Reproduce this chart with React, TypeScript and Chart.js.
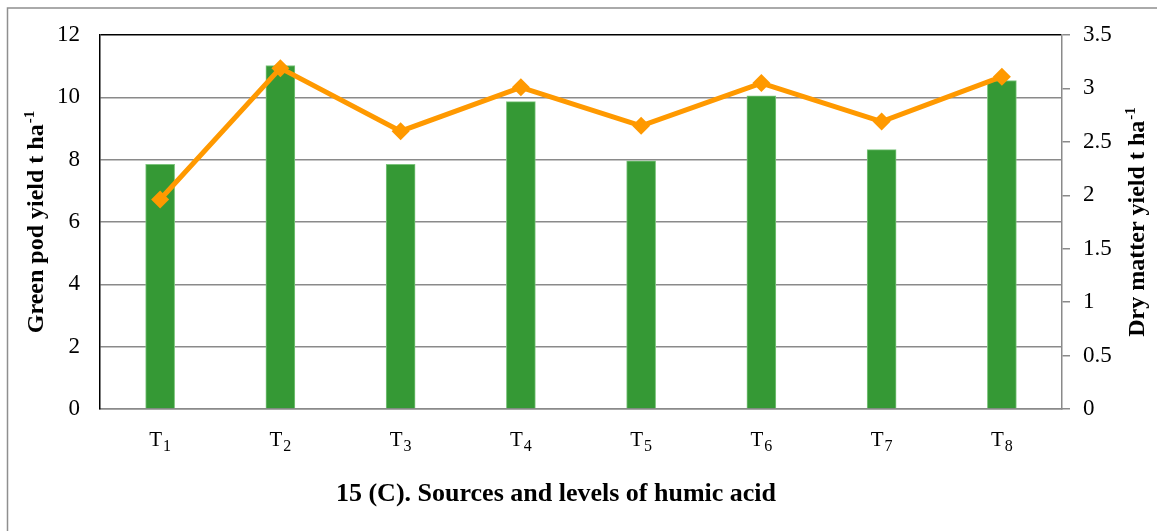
import React, { useEffect, useRef } from "react";
import { Chart, registerables } from "chart.js";

Chart.register(...registerables);

// Treatments on the category axis
const treatments = ["T₁", "T₂", "T₃", "T₄", "T₅", "T₆", "T₇", "T₈"];
// Green pod yield (t/ha), left axis
const greenPodYield = [7.85, 11.02, 7.85, 9.86, 7.96, 10.05, 8.32, 10.54];
// Dry matter yield (t/ha), right axis
const dryMatterYield = [1.96, 3.19, 2.6, 3.01, 2.65, 3.05, 2.69, 3.11];

const leftTicks = [0, 2, 4, 6, 8, 10, 12];
const rightTicks = [0, 0.5, 1, 1.5, 2, 2.5, 3, 3.5];

const leftTitle = "Green pod yield t ha";
const rightTitle = "Dry matter yield t ha";
const unitSup = "-1";
const xTitle = "15 (C). Sources and levels of humic acid";

const SERIF = "'Liberation Serif', 'Times New Roman', 'DejaVu Serif', serif";
const SUBSCRIPTS = "₀₁₂₃₄₅₆₇₈₉";

// Rotated axis title with a raised "-1" exponent
function drawRotatedTitle(ctx: CanvasRenderingContext2D, cx: number, cy: number, text: string, sup: string) {
  ctx.save();
  ctx.translate(cx, cy);
  ctx.rotate(-Math.PI / 2);
  ctx.fillStyle = "#000";
  ctx.textBaseline = "alphabetic";
  ctx.textAlign = "left";
  ctx.font = `bold 24px ${SERIF}`;
  const mainW = ctx.measureText(text).width;
  ctx.font = `bold 15px ${SERIF}`;
  const supW = ctx.measureText(sup).width;
  const total = mainW + supW + 1;
  const x0 = -total / 2;
  const base = 8;
  ctx.font = `bold 24px ${SERIF}`;
  ctx.fillText(text, x0, base);
  ctx.font = `bold 15px ${SERIF}`;
  ctx.fillText(sup, x0 + mainW + 1, base - 9);
  ctx.restore();
}

// Category labels such as "T₁": letter with a lowered, smaller index
function drawCategoryLabel(ctx: CanvasRenderingContext2D, cx: number, baseline: number, label: string) {
  let head = "";
  let sub = "";
  for (const ch of label) {
    const i = SUBSCRIPTS.indexOf(ch);
    if (i >= 0) sub += String(i);
    else head += ch;
  }
  ctx.save();
  ctx.fillStyle = "#000";
  ctx.textBaseline = "alphabetic";
  ctx.textAlign = "left";
  ctx.font = `21px ${SERIF}`;
  const headW = ctx.measureText(head).width;
  ctx.font = `16px ${SERIF}`;
  const subW = ctx.measureText(sub).width;
  const x0 = cx - (headW + subW + 1) / 2;
  ctx.font = `21px ${SERIF}`;
  ctx.fillText(head, x0, baseline);
  ctx.font = `16px ${SERIF}`;
  ctx.fillText(sub, x0 + headW + 1, baseline + 5);
  ctx.restore();
}

const titlesPlugin = {
  id: "frameAndTitles",
  beforeDraw(chart: any) {
    const { ctx } = chart;
    ctx.save();
    ctx.strokeStyle = "#8f8f8f";
    ctx.lineWidth = 1.5;
    ctx.beginPath();
    ctx.moveTo(7.5, chart.height);
    ctx.lineTo(7.5, 8);
    ctx.lineTo(chart.width, 8);
    ctx.stroke();
    ctx.restore();
  },
  afterDraw(chart: any) {
    const { ctx, chartArea } = chart;
    const xScale = chart.scales.x;
    treatments.forEach((label, i) => {
      drawCategoryLabel(ctx, xScale.getPixelForValue(i), 446, label);
    });
    const midY = (chartArea.top + chartArea.bottom) / 2;
    drawRotatedTitle(ctx, 35, midY, leftTitle, unitSup);
    drawRotatedTitle(ctx, 1136, midY, rightTitle, unitSup);
    ctx.save();
    ctx.fillStyle = "#000";
    ctx.font = `bold 26px ${SERIF}`;
    ctx.textAlign = "center";
    ctx.textBaseline = "middle";
    ctx.fillText(xTitle, 556, 494);
    ctx.restore();
  },
};

export default function App() {
  const canvasRef = useRef<HTMLCanvasElement | null>(null);

  useEffect(() => {
    const canvas = canvasRef.current;
    if (!canvas) return;
    const chart = new Chart(canvas, {
      type: "bar",
      data: {
        labels: treatments,
        datasets: [
          {
            type: "line",
            label: "Dry matter yield",
            data: dryMatterYield,
            yAxisID: "y1",
            borderColor: "#ff9900",
            backgroundColor: "#ff9900",
            borderWidth: 5,
            pointStyle: "rectRot",
            pointRadius: 9,
            pointBorderWidth: 0,
            pointBackgroundColor: "#ff9900",
            tension: 0,
            order: 0,
          },
          {
            type: "bar",
            label: "Green pod yield",
            data: greenPodYield,
            yAxisID: "y",
            backgroundColor: "#359935",
            borderColor: "#7cc47c",
            borderWidth: 1,
            barThickness: 29,
            order: 1,
          },
        ],
      },
      options: {
        responsive: false,
        animation: false,
        layout: { padding: { top: 35, left: 0, right: 0, bottom: 0 } },
        plugins: {
          legend: { display: false },
          tooltip: { enabled: false },
          title: { display: false },
        },
        scales: {
          x: {
            afterFit: (s: any) => {
              s.height = 122;
            },
            grid: { display: false, drawTicks: false },
            border: { display: true, color: "#8a8a8a", width: 1.5 },
            ticks: { display: false },
          },
          y: {
            position: "left",
            min: 0,
            max: 12,
            afterFit: (s: any) => {
              s.width = 100;
            },
            afterBuildTicks: (s: any) => {
              s.ticks = leftTicks.map((v) => ({ value: v }));
            },
            grid: {
              drawTicks: false,
              color: (c: any) => (c.tick && c.tick.value === 12 ? "#000" : "#8a8a8a"),
              lineWidth: 1.5,
            },
            border: { display: true, color: "#000", width: 1.5 },
            ticks: {
              padding: 20,
              color: "#000",
              font: { family: SERIF, size: 23 },
              callback: (v: any) => String(v),
            },
          },
          y1: {
            position: "right",
            min: 0,
            max: 3.5,
            afterFit: (s: any) => {
              s.width = 95;
            },
            afterBuildTicks: (s: any) => {
              s.ticks = rightTicks.map((v) => ({ value: v }));
            },
            grid: {
              drawOnChartArea: false,
              drawTicks: true,
              tickLength: 8,
              color: "#8a8a8a",
              lineWidth: 1.5,
            },
            border: { display: true, color: "#8a8a8a", width: 1.5 },
            ticks: {
              padding: 13,
              color: "#000",
              font: { family: SERIF, size: 23 },
              callback: (v: any) => String(v),
            },
          },
        },
      },
      plugins: [titlesPlugin],
    });
    return () => chart.destroy();
  }, []);

  return (
    <div style={{ position: "fixed", left: 0, top: 0, width: 1157, height: 531, background: "#fff" }}>
      <canvas ref={canvasRef} width={1157} height={531} style={{ display: "block" }} />
    </div>
  );
}
